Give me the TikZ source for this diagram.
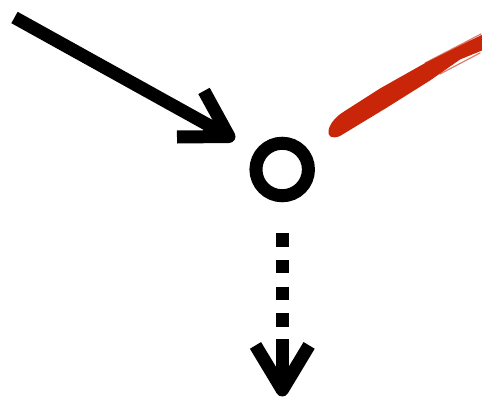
\documentclass[tikz,border=0pt]{standalone}
\usetikzlibrary{calc}
\definecolor{brushred}{RGB}{200,37,9}
\tikzset{
  heavy/.style={line width=13pt, black, line cap=butt},
  headarm/.style={line width=13pt, black, line cap=butt, line join=round},
  ring/.style={circle, draw=black, line width=13pt, minimum size=52.5pt, inner sep=0pt},
  dots/.style={line width=13.3pt, black, line cap=butt, dash pattern=on 13.33pt off 13.33pt},
  streak/.style={brushred, line width=1.2pt, opacity=0.6, line cap=round}
}
\begin{document}
\begin{tikzpicture}[x=1pt, y=-1pt]
\useasboundingbox (0,0) rectangle (482,399);

% circle node
\node[ring] (o) at (282.2,169.5) {};

% incoming solid arrow
\coordinate (a0) at (14.5,17.5);
\coordinate (a1) at (229,136.5);
\draw[heavy] (a0) -- (a1);
\draw[headarm] ($(a1)+(-52,0.5)$) -- (a1) -- ($(a1)+(-25,-45.6)$);

% red brush stroke
\fill[brushred] (482,35) -- (467,42) -- (427,62) -- (380,88.5) -- (344,111.5)
  .. controls (325,123) and (323,143) .. (340,136)
  -- (387,107.5) -- (430,80.5) -- (460,59.5) -- (482,50.5) -- cycle;
\draw[streak] (425,63) -- (481,34);
\draw[streak] (440,74) -- (480,53);
\draw[streak] (455,51) -- (481,36);

% dotted outgoing arrow
\coordinate (d0) at (282.3,233.3);
\coordinate (d1) at (282.3,326.7);
\coordinate (d2) at (282.3,339.3);
\coordinate (d3) at (282.3,390);
\draw[dots] (d0) -- (d1);
\draw[heavy] (d2) -- (d3);
\draw[headarm] ($(d3)+(-26.8,-44.6)$) -- (d3) -- ($(d3)+(26.8,-44.6)$);
\end{tikzpicture}
\end{document}
